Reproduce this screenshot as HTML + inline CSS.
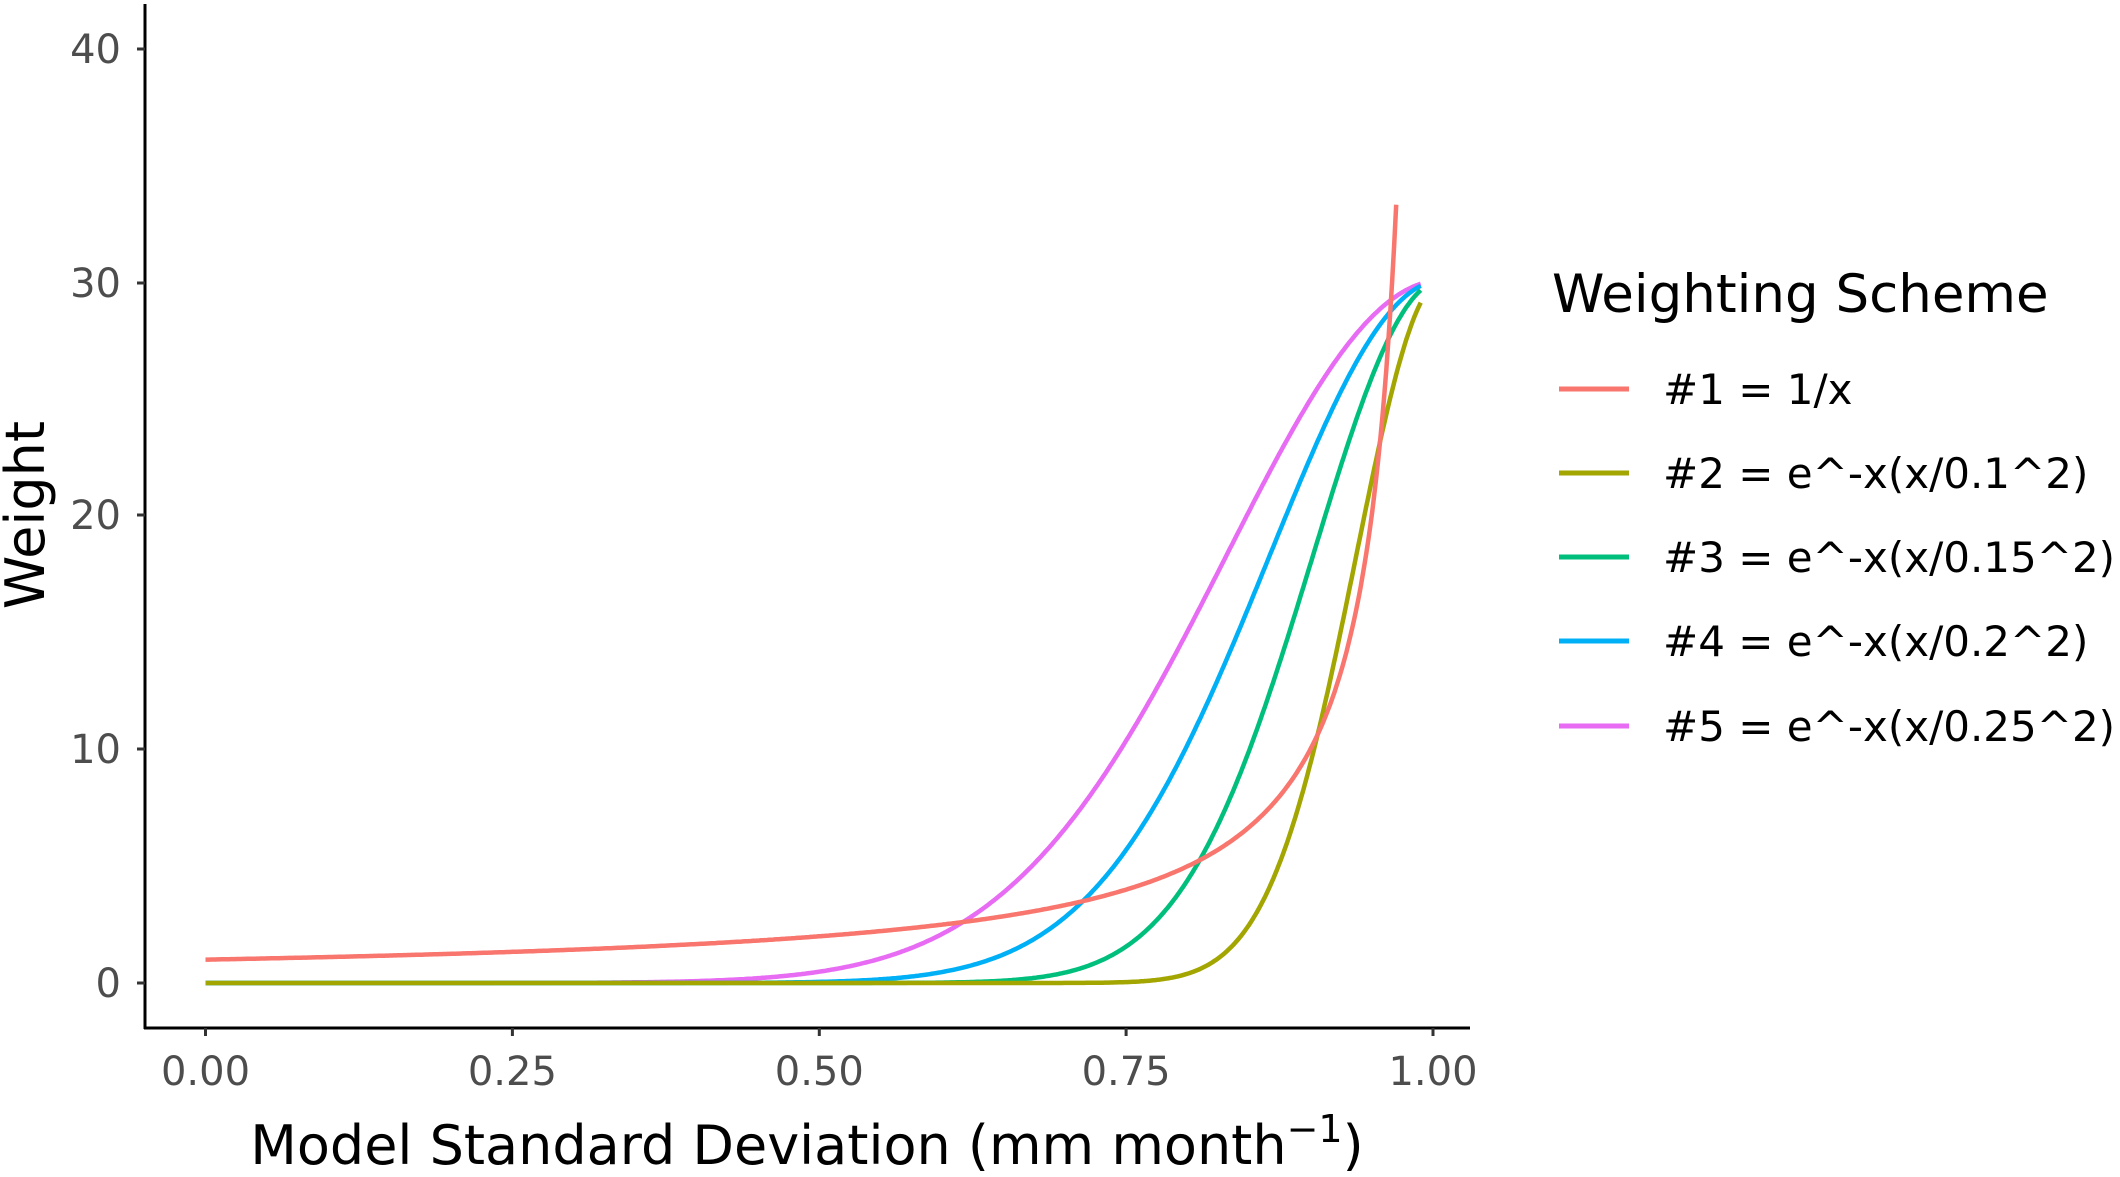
<!DOCTYPE html>
<html><head><meta charset="utf-8"><style>
html,body{margin:0;padding:0;background:#fff;}
svg{display:block;font-family:"DejaVu Sans","Liberation Sans",sans-serif;}
</style></head><body>
<svg id="s" width="2120" height="1177" viewBox="0 0 2120 1177" xmlns="http://www.w3.org/2000/svg">
<rect width="2120" height="1177" fill="#fff"/>
<g id="curves" fill="none" stroke-width="4.5" stroke-linejoin="round"></g>
<line x1="145" y1="4" x2="145" y2="1029" stroke="#000" stroke-width="3"/>
<line x1="144" y1="1028" x2="1470" y2="1028" stroke="#000" stroke-width="3"/>
<g stroke="#333" stroke-width="3">
<line x1="137" y1="983" x2="145" y2="983"/><line x1="137" y1="749" x2="145" y2="749"/>
<line x1="137" y1="515" x2="145" y2="515"/><line x1="137" y1="283" x2="145" y2="283"/>
<line x1="137" y1="49" x2="145" y2="49"/>
<line x1="205.5" y1="1028" x2="205.5" y2="1036"/><line x1="512.4" y1="1028" x2="512.4" y2="1036"/>
<line x1="819.3" y1="1028" x2="819.3" y2="1036"/><line x1="1126.1" y1="1028" x2="1126.1" y2="1036"/>
<line x1="1433" y1="1028" x2="1433" y2="1036"/>
</g>
<g fill="#4d4d4d" font-size="40" text-anchor="end">
<text x="121" y="997">0</text><text x="121" y="763">10</text><text x="121" y="529">20</text>
<text x="121" y="297">30</text><text x="121" y="63">40</text>
</g>
<g fill="#4d4d4d" font-size="40" text-anchor="middle">
<text x="205.5" y="1085">0.00</text><text x="512.4" y="1085">0.25</text><text x="819.3" y="1085">0.50</text>
<text x="1126.1" y="1085">0.75</text><text x="1433" y="1085">1.00</text>
</g>
<text x="807" y="1164" font-size="54" text-anchor="middle" fill="#000">Model Standard Deviation (mm month<tspan font-size="38" dy="-22">−1</tspan><tspan dy="22">)</tspan></text>
<text transform="translate(44,515) rotate(-90)" font-size="54" text-anchor="middle" fill="#000">Weight</text>
<text x="1552" y="312" font-size="53" fill="#000">Weighting Scheme</text>
<g stroke-width="5">
<line x1="1559" y1="389" x2="1629" y2="389" stroke="#F8766D"/>
<line x1="1559" y1="473" x2="1629" y2="473" stroke="#A3A500"/>
<line x1="1559" y1="557" x2="1629" y2="557" stroke="#00BF7D"/>
<line x1="1559" y1="641" x2="1629" y2="641" stroke="#00B0F6"/>
<line x1="1559" y1="726" x2="1629" y2="726" stroke="#E76BF3"/>
</g>
<g font-size="42" fill="#000">
<text x="1663" y="404">#1 = 1/x</text>
<text x="1663" y="488">#2 = e^-x(x/0.1^2)</text>
<text x="1663" y="572">#3 = e^-x(x/0.15^2)</text>
<text x="1663" y="656">#4 = e^-x(x/0.2^2)</text>
<text x="1663" y="741">#5 = e^-x(x/0.25^2)</text>
</g>
</svg>
<script>
(function(){
var X=function(t){return 205.5+1227.5*t;},Y=function(v){return 983-23.35*v;};
var g=document.getElementById('curves');
function add(f,t1,col){var d='';for(var i=0;i<=600;i++){var t=t1*i/600;d+=(i?'L':'M')+X(t).toFixed(1)+' '+Y(f(t)).toFixed(1);}
var p=document.createElementNS('http://www.w3.org/2000/svg','path');p.setAttribute('d',d);p.setAttribute('stroke',col);g.appendChild(p);}
[[0.25,'#E76BF3'],[0.2,'#00B0F6'],[0.15,'#00BF7D'],[0.1,'#A3A500']].forEach(function(a){
add(function(t){var z=(1.008-t)/a[0];return 30.1*Math.exp(-z*z);},0.99,a[1]);});
add(function(t){return 1/(1-t);},0.97,'#F8766D');
})();
</script>
</body></html>
